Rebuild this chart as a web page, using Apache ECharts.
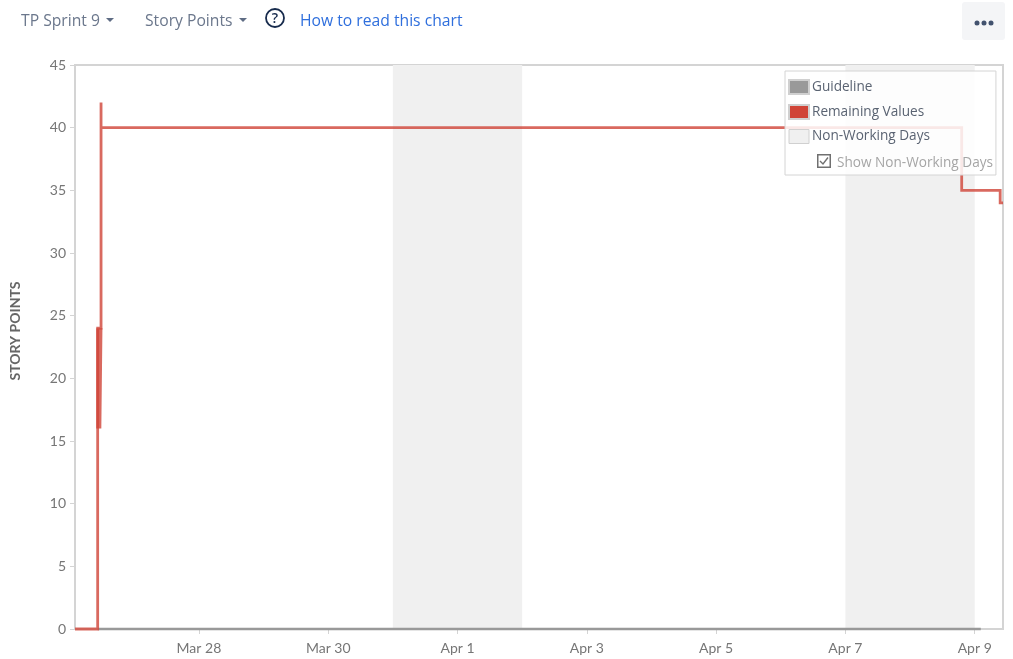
<!DOCTYPE html>
<html lang="en">
<head>
    <meta charset="UTF-8">
    <title>TP Sprint 9 burndown</title>
    <script src="https://cdn.jsdelivr.net/npm/echarts@6/dist/echarts.min.js"></script>
    <style>
        html, body {margin: 0; padding: 0; background: #fff;}
        #main {position: absolute; left: 0; top: 0; width: 1013px; height: 659px;}
        .bar {position: absolute; font-family: "Open Sans", "Noto Sans", sans-serif; font-size: 15.7px; line-height: 20px; white-space: nowrap;}
        .drop {color: #6b778c;}
        .drop i {display: inline-block; margin-left: 6px; vertical-align: 4px; border-left: 4px solid transparent; border-right: 4px solid transparent; border-top: 4px solid #5e6c84;}
        .more {position: absolute; left: 962px; top: 2px; width: 43px; height: 38px; background: #f4f5f7; border-radius: 3px;}
        .show {position: absolute; left: 817px; top: 153px; font-family: "Open Sans", "Noto Sans", sans-serif; font-size: 13.6px; color: #a5a5a5; line-height: 18px; white-space: nowrap;}
        .show svg {position: absolute; left: 0; top: 1px;}
        .show span {margin-left: 20px;}
    </style>
</head>
<body>
    <div id="main"></div>
    <div class="bar drop" style="left:21px;top:10px;">TP Sprint 9<i></i></div>
    <div class="bar drop" style="left:145px;top:10px;">Story Points<i></i></div>
    <svg style="position:absolute;left:264px;top:7px;" width="22" height="22" viewBox="0 0 22 22">
        <circle cx="11" cy="11" r="9" fill="none" stroke="#172b4d" stroke-width="1.8"></circle>
        <text x="11" y="16" text-anchor="middle" font-family="Open Sans" font-size="14" font-weight="600" fill="#172b4d">?</text>
    </svg>
    <div class="bar" style="left:300px;top:10px;color:#2f6fdd;">How to read this chart</div>
    <div class="more">
        <svg width="43" height="38">
            <circle cx="15" cy="21" r="2.5" fill="#42526e"></circle>
            <circle cx="22" cy="21" r="2.5" fill="#42526e"></circle>
            <circle cx="29" cy="21" r="2.5" fill="#42526e"></circle>
        </svg>
    </div>
    <div class="show">
        <svg width="14" height="14">
            <rect x="0.75" y="0.75" width="12.5" height="12.5" fill="none" stroke="#707070" stroke-width="1.5"></rect>
            <path d="M3 7 L6 10 L11 3.5" fill="none" stroke="#707070" stroke-width="1.4"></path>
        </svg>
        <span>Show Non-Working Days</span>
    </div>
    <script>
        var tick_dates = ['2021-03-28', '2021-03-30', '2021-04-01', '2021-04-03', '2021-04-05', '2021-04-07', '2021-04-09'];
        var month_names = ['Jan', 'Feb', 'Mar', 'Apr'];
        var x_min = '2021-03-26 02:00';
        var x_max = '2021-04-09 10:30';
        var non_working = [['2021-03-31', '2021-04-02'], ['2021-04-07', '2021-04-09']];
        var guideline = [['2021-03-26 10:25', 0], ['2021-04-09 02:15', 0]];
        var remaining = [
            ['2021-03-26 02:00', 0],
            ['2021-03-26 10:25', 0],
            ['2021-03-26 10:25', 24],
            ['2021-03-26 11:40', 24],
            ['2021-03-26 11:40', 42],
            ['2021-03-26 11:40', 40],
            ['2021-04-08 19:10', 40],
            ['2021-04-08 19:10', 35],
            ['2021-04-09 09:27', 35],
            ['2021-04-09 09:27', 34],
            ['2021-04-09 10:30', 34]
        ];
        // the burst of edits on the first day, drawn over the main line so it looks darker
        var remaining_burst = [
            ['2021-03-26 10:25', 24],
            ['2021-03-26 10:25', 16],
            ['2021-03-26 10:50', 16],
            ['2021-03-26 10:50', 24],
            ['2021-03-26 11:15', 24],
            ['2021-03-26 11:15', 16],
            ['2021-03-26 11:40', 16],
            ['2021-03-26 11:40', 24]
        ];

        function toTime(s) {
            return new Date(s.replace(' ', 'T') + (s.length > 10 ? ':00' : 'T00:00:00')).getTime();
        }
        function toPoints(list) {
            return list.map(function (p) { return [toTime(p[0]), p[1]]; });
        }

        var font = 'Lato, "Open Sans", sans-serif';
        var legend_font = '"Open Sans", "Noto Sans", sans-serif';
        var tick_values = tick_dates.map(toTime);

        var myChart = echarts.init(document.getElementById('main'));
        var option = {
            animation: false,
            grid: {
                left: 75, right: 10, top: 65, bottom: 30,
                show: true,
                borderColor: '#d4d4d4',
                borderWidth: 2,
                backgroundColor: '#fff'
            },
            legend: {
                orient: 'vertical',
                left: 785,
                top: 71,
                padding: [8, 66, 31, 3],
                itemWidth: 20,
                itemHeight: 14,
                itemGap: 9,
                icon: 'rect',
                selectedMode: false,
                backgroundColor: 'rgba(255,255,255,0.85)',
                borderColor: '#d4d4d4',
                borderWidth: 1,
                textStyle: {fontFamily: legend_font, fontSize: 13.6, color: '#5a6372', padding: [0, 0, 0, -2]},
                data: [
                    {name: 'Guideline', itemStyle: {color: '#999999', borderColor: '#d0d0d0', borderWidth: 2}},
                    {name: 'Remaining Values', itemStyle: {color: '#d04437', borderColor: '#d0d0d0', borderWidth: 2}},
                    {name: 'Non-Working Days', itemStyle: {color: '#f0f0f0', borderColor: '#d0d0d0', borderWidth: 1}}
                ]
            },
            xAxis: {
                type: 'value',
                min: toTime(x_min),
                max: toTime(x_max),
                axisLine: {show: false},
                splitLine: {show: false},
                axisTick: {show: true, length: 5, customValues: tick_values, lineStyle: {color: '#d4d4d4', width: 1}},
                axisLabel: {
                    customValues: tick_values,
                    margin: 12,
                    fontFamily: font,
                    fontSize: 14,
                    color: '#767676',
                    formatter: function (value) {
                        var d = new Date(value);
                        return month_names[d.getMonth()] + ' ' + d.getDate();
                    }
                }
            },
            yAxis: {
                type: 'value',
                min: 0,
                max: 45,
                interval: 5,
                name: 'STORY POINTS',
                nameLocation: 'middle',
                nameGap: 53,
                nameTextStyle: {fontFamily: font, fontSize: 14, fontWeight: 'bold', color: '#666', padding: [0, 0, 0, 32]},
                axisLine: {show: false},
                splitLine: {show: false},
                axisTick: {show: true, length: 5, lineStyle: {color: '#d4d4d4', width: 1}},
                axisLabel: {margin: 9, fontFamily: font, fontSize: 14, color: '#767676'}
            },
            series: [
                {
                    name: 'Non-Working Days',
                    type: 'line',
                    z: 1,
                    data: [],
                    silent: true,
                    markArea: {
                        silent: true,
                        itemStyle: {color: '#f0f0f0'},
                        data: non_working.map(function (r) {
                            return [{xAxis: toTime(r[0])}, {xAxis: toTime(r[1])}];
                        })
                    }
                },
                {
                    name: 'Guideline',
                    type: 'line',
                    z: 2,
                    showSymbol: false,
                    itemStyle: {color: '#999999'},
                    lineStyle: {color: '#999999', width: 2.5},
                    clip: false,
                    data: toPoints(guideline)
                },
                {
                    name: 'Remaining Values',
                    type: 'line',
                    z: 3,
                    showSymbol: false,
                    itemStyle: {color: '#d04437'},
                    lineStyle: {color: '#d04437', width: 2.8, opacity: 0.8, join: 'miter'},
                    clip: false,
                    data: toPoints(remaining)
                },
                {
                    name: 'Remaining Values',
                    type: 'line',
                    z: 3,
                    showSymbol: false,
                    itemStyle: {color: '#d04437'},
                    lineStyle: {color: '#d04437', width: 2.8, opacity: 0.8, join: 'miter'},
                    data: toPoints(remaining_burst)
                }
            ]
        };
        myChart.setOption(option);
    </script>
</body>
</html>
